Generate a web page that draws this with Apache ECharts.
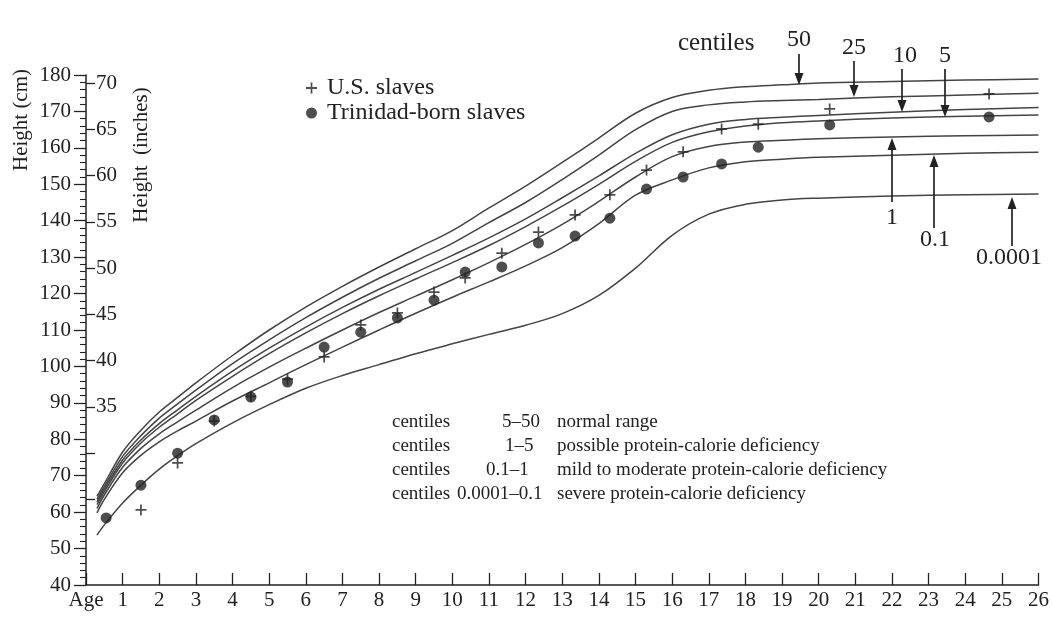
<!DOCTYPE html>
<html>
<head>
<meta charset="utf-8">
<script src="https://cdn.jsdelivr.net/npm/echarts@6/dist/echarts.min.js"></script>
<style>
html,body{margin:0;padding:0;background:#fff;}
#chart{width:1052px;height:617px;}
</style>
</head>
<body>
<div id="chart"></div>
<script>
// ---- data ----
const ages = [0.3, 0.5, 1, 1.5, 2, 2.5, 3, 4, 5, 6, 7, 8, 9, 10, 11, 12, 13, 14, 15, 16, 17, 18, 19, 20, 22, 24, 26];
const centile50   = [64.3, 67.8, 76.5, 82.5, 87.5, 91.5, 95.5, 103, 110, 116.3, 122, 127.3, 132.3, 137.3, 143.5, 149.5, 156, 162.7, 169.5, 173.8, 175.8, 176.8, 177.3, 177.8, 178.2, 178.6, 178.9];
const centile25   = [63.5, 67, 75.3, 81, 85.8, 89.7, 93.5, 100.8, 107.3, 113.4, 119, 124.2, 129, 133.8, 139.5, 145, 151.3, 158, 165, 170, 171.8, 172.6, 173, 173.3, 174, 174.5, 175];
const centile10   = [62.8, 66.3, 74.3, 79.8, 84.3, 88.1, 91.8, 98.7, 105, 110.8, 116.2, 121.2, 125.8, 130.5, 135.3, 140.5, 146.3, 152.3, 158.5, 163.6, 166.5, 167.8, 168.4, 168.9, 169.8, 170.5, 171.1];
const centile5    = [62.1, 65.6, 73.5, 79, 83.3, 87, 90.7, 97.3, 103.5, 109.2, 114.5, 119.4, 124, 128.5, 133.2, 138.4, 144, 150, 156.3, 161.5, 164.4, 166, 166.9, 167.4, 168.2, 168.7, 169];
const centile1    = [61, 64.7, 72.3, 77.5, 81.5, 84.8, 88, 94.2, 99.8, 105, 110, 114.8, 119.3, 123.8, 128.5, 133.5, 139, 145.3, 152, 157.6, 160.4, 161.6, 162.1, 162.5, 163, 163.3, 163.5];
const centile01   = [59.8, 63.5, 70.8, 75.6, 79.3, 82.3, 85, 90.5, 95.5, 100.5, 105.3, 110, 114.6, 119, 123.2, 127.6, 132.6, 139.2, 147, 151.2, 154.5, 156.2, 156.9, 157.4, 158, 158.5, 158.8];
const centile0001 = [53.7, 56.5, 62.5, 67.4, 71.8, 75.5, 78.8, 84.5, 89.5, 94, 97.5, 100.5, 103.5, 106.2, 108.8, 111.3, 114.5, 119.5, 127, 136, 141.8, 144.5, 145.7, 146.2, 146.8, 147.1, 147.3];

const usAges   = [1.5, 2.5, 3.5, 4.5, 5.5, 6.5, 7.5, 8.5, 9.5, 10.35, 11.35, 12.35, 13.35, 14.3, 15.3, 16.3, 17.35, 18.35, 20.3, 24.65];
const usHeight = [60.6, 73.5, 85.0, 91.8, 96.5, 102.6, 111.4, 114.7, 120.4, 124.3, 131.1, 136.9, 141.6, 147.1, 153.9, 158.9, 165.2, 166.5, 170.7, 174.8];
const trAges   = [0.55, 1.5, 2.5, 3.5, 4.5, 5.5, 6.5, 7.5, 8.5, 9.5, 10.35, 11.35, 12.35, 13.35, 14.3, 15.3, 16.3, 17.35, 18.35, 20.3, 24.65];
const trHeight = [58.4, 67.4, 76.2, 85.3, 91.6, 95.7, 105.3, 109.4, 113.3, 118.2, 125.9, 127.3, 133.9, 135.8, 140.7, 148.7, 152.0, 155.6, 160.2, 166.3, 168.5];

const inchTicks  = [25, 30, 35, 40, 45, 50, 55, 60, 65, 70];
const inchLabels = [35, 40, 45, 50, 55, 60, 65, 70];

const curveNames = ['50', '25', '10', '5', '1', '0.1', '0.0001'];
const curveValues = [centile50, centile25, centile10, centile5, centile1, centile01, centile0001];

const legendNames = ['U.S. slaves', 'Trinidad-born slaves'];
const keyRows = [
  ['centiles', '5–50', 'normal range'],
  ['centiles', '1–5', 'possible protein-calorie deficiency'],
  ['centiles', '0.1–1', 'mild to moderate protein-calorie deficiency'],
  ['centiles', '0.0001–0.1', 'severe protein-calorie deficiency']
];

// ---- chart ----
const FONT = '"Liberation Serif", "DejaVu Serif", serif';
const INK = '#222';
const LINE = '#444';
const plusPath = 'path://M4.2,0 H5.8 V4.2 H10 V5.8 H5.8 V10 H4.2 V5.8 H0 V4.2 H4.2 Z';

const chart = echarts.init(document.getElementById('chart'), null, {renderer: 'canvas'});

const series = curveNames.map((n, k) => ({
  name: 'c' + n,
  type: 'line',
  smooth: 0.35,
  showSymbol: false,
  silent: true,
  yAxisIndex: 0,
  lineStyle: {color: LINE, width: 1.5},
  data: ages.map((a, i) => [a, curveValues[k][i]]),
  z: 2
}));
series.push({
  name: legendNames[0], type: 'scatter', symbol: plusPath, symbolSize: 11,
  itemStyle: {color: INK}, data: usAges.map((a, i) => [a, usHeight[i]]), z: 4
});
series.push({
  name: legendNames[1], type: 'scatter', symbol: 'circle', symbolSize: 11,
  itemStyle: {color: INK}, data: trAges.map((a, i) => [a, trHeight[i]]), z: 3
});

const option = {
  animation: false,
  backgroundColor: '#fff',
  grid: {left: 86, right: 12, top: 75, bottom: 32, containLabel: false},
  legend: {
    data: legendNames, orient: 'vertical', left: 301, top: 71,
    itemWidth: 11, itemHeight: 11, itemGap: 1,
    textStyle: {fontFamily: FONT, fontSize: 24, color: INK, padding: [0, 0, 0, 5]},
    selectedMode: false
  },
  xAxis: {
    type: 'value', min: 0, max: 26, interval: 1,
    axisLine: {lineStyle: {color: INK, width: 1.5}},
    axisTick: {inside: true, length: 12, lineStyle: {color: INK, width: 1.3}},
    axisLabel: {
      fontFamily: FONT, fontSize: 21, color: INK, margin: 5,
      showMinLabel: true, showMaxLabel: true,
      formatter: v => v === 0 ? 'Age' : String(v)
    },
    splitLine: {show: false}
  },
  yAxis: [
    {
      type: 'value', min: 40, max: 180, interval: 10, position: 'left',
      axisLine: {show: true, lineStyle: {color: INK, width: 1.5}},
      axisTick: {show: true, length: 12, lineStyle: {color: INK, width: 1.3}},
      minorTick: {show: true, splitNumber: 5, length: 6, lineStyle: {color: INK, width: 1.1}},
      axisLabel: {fontFamily: FONT, fontSize: 21, color: INK, margin: 15, showMinLabel: true, showMaxLabel: true},
      splitLine: {show: false}, minorSplitLine: {show: false}
    },
    {
      type: 'value', min: 40 / 2.54, max: 180 / 2.54, position: 'left', offset: 0,
      axisLine: {show: false},
      axisTick: {show: true, inside: true, length: 9, customValues: inchTicks, lineStyle: {color: INK, width: 1.3}},
      axisLabel: {show: true, inside: true, margin: 10, customValues: inchLabels,
        fontFamily: FONT, fontSize: 21, color: INK},
      splitLine: {show: false}
    }
  ],
  series: series
};
chart.setOption(option);

// ---- annotations (text, arrows) ----
function txt(text, x, y, size, align, rot) {
  return {
    type: 'text', x: x, y: y, rotation: rot || 0, silent: true, z: 10,
    style: {text: text, fontFamily: FONT, fontSize: size, fill: INK,
      align: align || 'left', verticalAlign: 'middle', textAlign: align || 'left', textVerticalAlign: 'middle'}
  };
}
function arrow(x, yTail, yTip) {
  const dir = yTip > yTail ? 1 : -1;
  return [
    {type: 'line', silent: true, z: 10, shape: {x1: x, y1: yTail, x2: x, y2: yTip - dir * 8},
      style: {stroke: INK, lineWidth: 1.7}},
    {type: 'polygon', silent: true, z: 10,
      shape: {points: [[x, yTip], [x - 4.5, yTip - dir * 12], [x + 4.5, yTip - dir * 12]]},
      style: {fill: INK}}
  ];
}

const g = [];
g.push(txt('Height (cm)', 21, 120, 21, 'center', Math.PI / 2));
g.push(txt('Height  (inches)', 141, 155, 21, 'center', Math.PI / 2));

// top centile labels
g.push(txt('centiles', 678, 43, 25, 'left'));
g.push(txt('50', 799, 40, 24, 'center'));
g.push(txt('25', 854, 48, 24, 'center'));
g.push(txt('10', 905, 56, 24, 'center'));
g.push(txt('5', 945, 56, 24, 'center'));
g.push(...arrow(799, 54, 85));
g.push(...arrow(854, 61, 97));
g.push(...arrow(902, 69, 112));
g.push(...arrow(945, 69, 117));
// bottom-right centile labels
g.push(...arrow(892, 202, 138));
g.push(...arrow(934, 228, 155));
g.push(...arrow(1012, 246, 197));
g.push(txt('1', 892, 218, 24, 'center'));
g.push(txt('0.1', 935, 240, 24, 'center'));
g.push(txt('0.0001', 1009, 258, 24, 'center'));

// key block
const rowY = [422, 446, 470, 494];
const midX = [502, 505, 486, 457];
keyRows.forEach((r, i) => {
  g.push(txt(r[0], 392, rowY[i], 19, 'left'));
  g.push(txt(r[1], midX[i], rowY[i], 19, 'left'));
  g.push(txt(r[2], 557, rowY[i], 19, 'left'));
});

chart.setOption({graphic: g});
</script>
</body>
</html>
